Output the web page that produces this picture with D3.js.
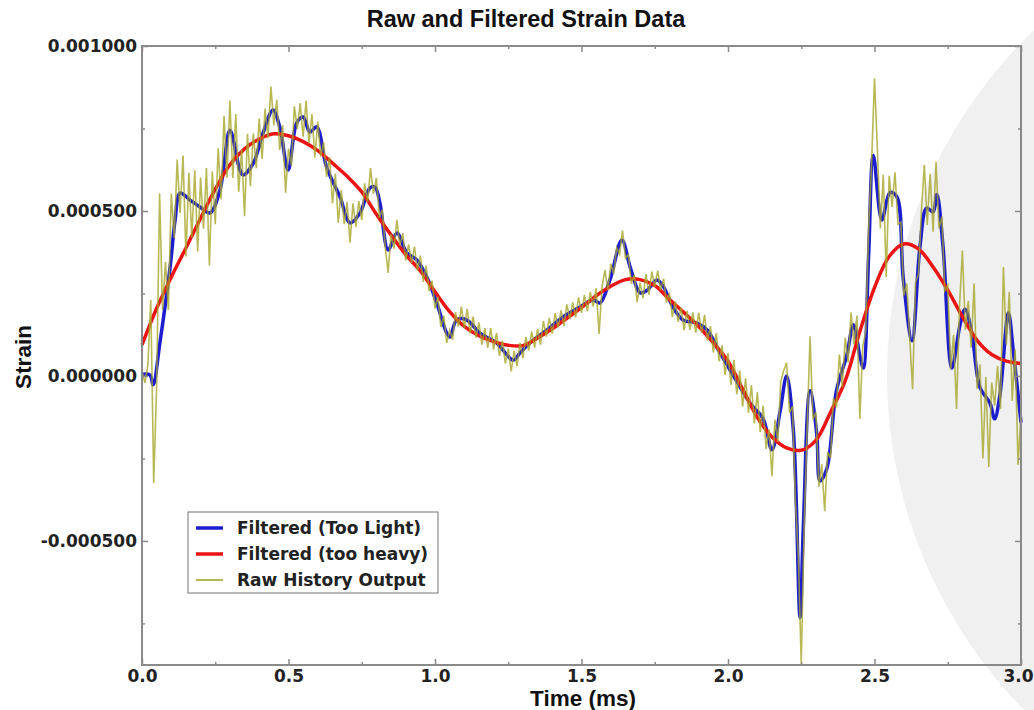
<!DOCTYPE html>
<html>
<head>
<meta charset="utf-8">
<script src="https://cdn.jsdelivr.net/npm/d3@7"></script>
<style>
   body { margin: 0; background: #fff; }
   svg { display: block; font-family: 'DejaVu Sans', Verdana, sans-serif; }
</style>
</head>
<body>
<svg id="chart"></svg>
<script>
// sample spacing of the evenly sampled series (ms)
const rawStep = 0.01;
const heavyStep = 0.05;

// raw history output, microstrain, every 0.01 ms
const rawValues = [
   15, -21, 33, 230, -324, -30, 554, 200, 345, 201,
   553, 418, 656, 494, 668, 362, 616, 419, 623, 377,
   601, 446, 630, 335, 620, 460, 690, 535, 788, 601,
   835, 600, 794, 558, 686, 484, 734, 575, 735, 630,
   780, 658, 810, 721, 877, 759, 837, 685, 760, 555,
   689, 638, 817, 749, 827, 725, 835, 705, 794, 662,
   771, 665, 709, 603, 663, 523, 613, 464, 563, 460,
   527, 404, 523, 452, 530, 472, 584, 527, 630, 552,
   600, 480, 504, 393, 312, 429, 386, 473, 395, 433,
   350, 399, 343, 392, 319, 365, 285, 334, 257, 289,
   205, 240, 148, 182, 100, 139, 110, 193, 150, 210,
   145, 203, 129, 180, 116, 162, 95, 145, 85, 145,
   80, 130, 61, 107, 38, 83, 14, 76, 30, 100,
   54, 118, 77, 134, 86, 143, 95, 167, 119, 176,
   128, 190, 147, 199, 151, 217, 172, 223, 178, 238,
   191, 246, 196, 255, 210, 266, 127, 270, 321, 260,
   340, 309, 389, 368, 441, 357, 368, 280, 307, 224,
   282, 235, 309, 246, 316, 270, 319, 260, 295, 222,
   252, 178, 225, 164, 207, 139, 197, 140, 193, 131,
   192, 131, 185, 107, 151, 71, 130, 44, 93, 3,
   69, -27, 49, -55, 16, -93, -7, -111, -28, -144,
   -49, -170, -90, -221, -162, -304, -132, -200, -17, 16,
   40, -111, -92, -377, -544, -873, -453, -164, 120, -132,
   -109, -336, -268, -410, -230, -249, -67, -95, 65, -34,
   116, 41, 192, 96, 183, -130, 90, 135, 447, 645,
   902, 684, 447, 610, 300, 607, 512, 617, 460, 466,
   244, 280, 117, -40, 283, 308, 498, 640, 458, 613,
   437, 648, 447, 483, 258, 275, 20, 125, -100, 208,
   380, 140, 228, 86, 280, -39, 35, -250, -3, -276,
   -20, -90, 30, -100, 330, 95, 255, -76, 80, -270,
   -111
];

// heavy filter, microstrain, every 0.05 ms
const heavyValues = [
   94, 205, 300, 388, 478, 566, 640, 688, 718, 734,
   728, 710, 683, 645, 605, 558, 490, 427, 368, 318,
   255, 195, 150, 122, 104, 93, 92, 115, 143, 175,
   207, 243, 272, 292, 292, 274, 232, 192, 150, 100,
   45, -40, -125, -185, -218, -225, -195, -110, -15, 135,
   268, 362, 400, 385, 330, 260, 180, 108, 65, 45,
   38
];

// light filter, read point by point (ms / microstrain)
const lightTimes = [
   0, 0.027, 0.038, 0.061, 0.096, 0.113, 0.13, 0.164, 0.198, 0.232,
   0.266, 0.3, 0.334, 0.345, 0.38, 0.413, 0.447, 0.47, 0.499, 0.528,
   0.55, 0.573, 0.596, 0.63, 0.676, 0.71, 0.744, 0.778, 0.795, 0.812,
   0.84, 0.87, 0.904, 0.938, 0.972, 1.006, 1.04, 1.051, 1.074, 1.108,
   1.153, 1.21, 1.267, 1.29, 1.324, 1.381, 1.437, 1.495, 1.54, 1.563,
   1.597, 1.638, 1.666, 1.7, 1.724, 1.757, 1.78, 1.812, 1.846, 1.894,
   1.928, 1.973, 2.007, 2.075, 2.12, 2.15, 2.178, 2.2, 2.223, 2.246,
   2.257, 2.28, 2.303, 2.314, 2.337, 2.37, 2.405, 2.428, 2.45, 2.462,
   2.48, 2.496, 2.525, 2.553, 2.576, 2.598, 2.628, 2.655, 2.678, 2.7,
   2.713, 2.734, 2.764, 2.792, 2.809, 2.832, 2.86, 2.894, 2.91, 2.928,
   2.957, 2.974, 3.0
];
const lightValues = [
   5, 3, -27, 100, 330, 473, 554, 533, 512, 494,
   563, 745, 624, 609, 645, 736, 806, 755, 624, 767,
   785, 739, 755, 633, 542, 464, 494, 570, 573, 524,
   382, 433, 373, 352, 300, 221, 130, 118, 170, 170,
   130, 100, 48, 70, 100, 139, 179, 209, 230, 221,
   291, 412, 330, 252, 260, 291, 270, 209, 170, 160,
   140, 70, 18, -82, -130, -224, -106, 0, -164, -732,
   -460, -45, -176, -318, -282, -45, 61, 155, 61, 24,
   367, 668, 473, 556, 544, 297, 107, 391, 509, 497,
   550, 391, 24, 155, 202, 130, -35, -82, -130, -58,
   191, 73, -141
];

const seriesLabels = ['Filtered (Too Light)', 'Filtered (too heavy)', 'Raw History Output'];
const seriesColors = ['#1c1cd0', '#ea1414', '#a6a62a'];

const xTicks = [0, 0.5, 1, 1.5, 2, 2.5, 3];
const xMinorTicks = [0.25, 0.75, 1.25, 1.75, 2.25, 2.75];
const yTicks = [-0.0005, 0, 0.0005, 0.001];
const yMinorTicks = [-0.00075, -0.00025, 0.00025, 0.00075];

class StrainChart {
   constructor(_config) {
      this.config = {
         parentElement: _config.parentElement,
         containerWidth: _config.containerWidth || 1034,
         containerHeight: _config.containerHeight || 710,
         margin: { top: 46, right: 13, bottom: 45, left: 142 },
      };
      this.initVis();
   }

   initVis() {
      const cfg = this.config;
      this.width = cfg.containerWidth - cfg.margin.left - cfg.margin.right;
      this.height = cfg.containerHeight - cfg.margin.top - cfg.margin.bottom;

      this.svg = d3
         .select(cfg.parentElement)
         .attr('width', cfg.containerWidth)
         .attr('height', cfg.containerHeight);

      // pale disc sitting behind the right part of the figure
      this.svg
         .append('circle')
         .attr('cx', 1365)
         .attr('cy', 375)
         .attr('r', 478)
         .attr('fill', '#f0f0f0');

      this.chart = this.svg
         .append('g')
         .attr('transform', `translate(${cfg.margin.left},${cfg.margin.top})`);

      this.xScale = d3.scaleLinear().domain([0, 3]).range([0, this.width]);
      this.yScale = d3
         .scaleLinear()
         .domain([-0.000876, 0.001])
         .range([this.height, 0]);

      this.updateVis();
   }

   updateVis() {
      const vis = this;
      const toStrain = (v) => v * 1e-6;

      const lineGen = d3
         .line()
         .x((d) => vis.xScale(d[0]))
         .y((d) => vis.yScale(d[1]));

      const light = lightTimes.map((t, i) => [t, toStrain(lightValues[i])]);
      const heavy = heavyValues.map((v, i) => [i * heavyStep, toStrain(v)]);
      const raw = rawValues.map((v, i) => [i * rawStep, toStrain(v)]);

      this.chart
         .append('path')
         .datum(light)
         .attr('fill', 'none')
         .attr('stroke', seriesColors[0])
         .attr('stroke-width', 3.5)
         .attr('stroke-linejoin', 'round')
         .attr('d', lineGen.curve(d3.curveCatmullRom.alpha(0.5)));

      this.chart
         .append('path')
         .datum(heavy)
         .attr('fill', 'none')
         .attr('stroke', seriesColors[1])
         .attr('stroke-width', 3.5)
         .attr('d', lineGen.curve(d3.curveCatmullRom.alpha(0.5)));

      this.chart
         .append('path')
         .datum(raw)
         .attr('fill', 'none')
         .attr('stroke', seriesColors[2])
         .attr('stroke-width', 1.6)
         .attr('opacity', 0.8)
         .attr('d', lineGen.curve(d3.curveLinear));

      this.renderAxes();
      this.renderLegend();
      this.renderLabels();
   }

   renderAxes() {
      const tickColor = '#8a8a8a';

      const style = (g, labels) => {
         g.select('.domain').remove();
         g.selectAll('.tick line').attr('stroke', tickColor).attr('stroke-width', 1.5);
         g.selectAll('.tick text')
            .attr('fill', '#222')
            .attr('font-family', "'DejaVu Sans', Verdana, sans-serif")
            .attr('font-size', 17)
            .attr('font-weight', 'bold')
            .style('display', labels ? null : 'none');
      };

      // major ticks, pointing inward
      this.chart
         .append('g')
         .attr('transform', `translate(0,${this.height})`)
         .call(d3.axisBottom(this.xScale).tickValues(xTicks).tickSize(-6).tickPadding(5)
            .tickFormat(d3.format('.1f')))
         .call((g) => style(g, true))
         // last label sits against the page edge
         .call((g) => g.selectAll('.tick text').filter((d) => d === 3).attr('dx', -3));
      this.chart
         .append('g')
         .call(d3.axisTop(this.xScale).tickValues(xTicks).tickSize(-6))
         .call((g) => style(g, false));
      this.chart
         .append('g')
         .call(d3.axisLeft(this.yScale).tickValues(yTicks).tickSize(-6).tickPadding(5)
            .tickFormat((d) => d.toFixed(6)))
         .call((g) => style(g, true));
      this.chart
         .append('g')
         .attr('transform', `translate(${this.width},0)`)
         .call(d3.axisRight(this.yScale).tickValues(yTicks).tickSize(-6))
         .call((g) => style(g, false));

      // minor ticks
      this.chart
         .append('g')
         .attr('transform', `translate(0,${this.height})`)
         .call(d3.axisBottom(this.xScale).tickValues(xMinorTicks).tickSize(-3))
         .call((g) => style(g, false));
      this.chart
         .append('g')
         .call(d3.axisTop(this.xScale).tickValues(xMinorTicks).tickSize(-3))
         .call((g) => style(g, false));
      this.chart
         .append('g')
         .call(d3.axisLeft(this.yScale).tickValues(yMinorTicks).tickSize(-3))
         .call((g) => style(g, false));
      this.chart
         .append('g')
         .attr('transform', `translate(${this.width},0)`)
         .call(d3.axisRight(this.yScale).tickValues(yMinorTicks).tickSize(-3))
         .call((g) => style(g, false));

      // frame
      this.chart
         .append('rect')
         .attr('width', this.width)
         .attr('height', this.height)
         .attr('fill', 'none')
         .attr('stroke', tickColor)
         .attr('stroke-width', 2);
   }

   renderLegend() {
      const legend = this.chart.append('g').attr('transform', 'translate(46,466)');

      legend
         .append('rect')
         .attr('width', 250)
         .attr('height', 81)
         .attr('fill', '#fff')
         .attr('stroke', '#8a8a8a')
         .attr('stroke-width', 1.2);

      const rows = legend
         .selectAll('g.row')
         .data(seriesLabels)
         .join('g')
         .attr('class', 'row')
         .attr('transform', (d, i) => `translate(0,${16 + i * 26})`);

      rows
         .append('line')
         .attr('x1', 8)
         .attr('x2', 35)
         .attr('stroke', (d, i) => seriesColors[i])
         .attr('stroke-width', (d, i) => (i < 2 ? 3.5 : 1.6));

      rows
         .append('text')
         .attr('x', 49)
         .attr('y', 6)
         .attr('font-size', 17)
         .attr('font-weight', 'bold')
         .attr('fill', '#222')
         .text((d) => d);
   }

   renderLabels() {
      const labelFont = "'Liberation Sans', Arial, sans-serif";

      this.svg
         .append('text')
         .attr('x', 526)
         .attr('y', 27)
         .attr('text-anchor', 'middle')
         .attr('font-family', labelFont)
         .attr('font-size', 23.5)
         .attr('font-weight', 'bold')
         .attr('fill', '#111')
         .text('Raw and Filtered Strain Data');

      this.svg
         .append('text')
         .attr('x', 583)
         .attr('y', 706)
         .attr('text-anchor', 'middle')
         .attr('font-family', labelFont)
         .attr('font-size', 22.5)
         .attr('font-weight', 'bold')
         .attr('fill', '#111')
         .text('Time (ms)');

      this.svg
         .append('text')
         .attr('transform', 'translate(31,357) rotate(-90)')
         .attr('text-anchor', 'middle')
         .attr('font-family', labelFont)
         .attr('font-size', 22.5)
         .attr('font-weight', 'bold')
         .attr('fill', '#111')
         .text('Strain');
   }
}

new StrainChart({ parentElement: '#chart' });
</script>
</body>
</html>
